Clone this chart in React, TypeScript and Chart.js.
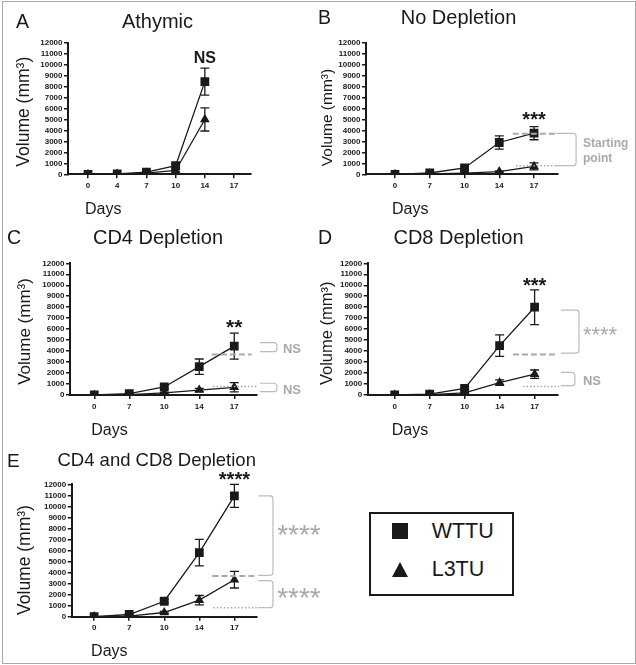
import React, { useEffect, useRef } from "react";
import { Chart, registerables } from "chart.js";

Chart.register(...registerables);

const W = 636;
const H = 665;
const FONT = '"Liberation Sans", Arial, Helvetica, sans-serif';
const INK = "#1a1a1a";
const GRAY = "#a9a9a9";
const GRAY_LINE = "#bcbcbc";

// ---------------- data ----------------
const DAYS_A = ["0", "4", "7", "10", "14", "17"];
const DAYS = ["0", "7", "10", "14", "17"];
const Y_MIN = 0;
const Y_MAX = 12000;
const Y_STEP = 1000;

const A_WTTU = [0, 30, 200, 780, 8450, null];
const A_WTTU_ERR = [0, 20, 80, 160, 1230, null];
const A_L3TU = [0, 15, 100, 350, 5000, null];
const A_L3TU_ERR = [0, 10, 40, 120, 1050, null];

const B_WTTU = [0, 120, 580, 2900, 3750];
const B_WTTU_ERR = [0, 60, 120, 600, 600];
const B_L3TU = [0, 30, 100, 240, 720];
const B_L3TU_ERR = [0, 10, 40, 80, 320];

const C_WTTU = [0, 120, 730, 2580, 4450];
const C_WTTU_ERR = [0, 60, 150, 700, 1180];
const C_L3TU = [0, 30, 200, 450, 700];
const C_L3TU_ERR = [0, 10, 60, 150, 420];

const D_WTTU = [0, 80, 600, 4500, 8000];
const D_WTTU_ERR = [0, 40, 120, 980, 1580];
const D_L3TU = [0, 30, 200, 1120, 1900];
const D_L3TU_ERR = [0, 10, 60, 250, 380];

const E_WTTU = [0, 200, 1400, 5800, 10950];
const E_WTTU_ERR = [0, 70, 160, 1200, 1050];
const E_L3TU = [0, 50, 380, 1500, 3350];
const E_L3TU_ERR = [0, 20, 90, 420, 750];

// starting-point reference levels (from No Depletion, day 17)
const START_WTTU = 3700;
const START_L3TU = 780;

// significance labels: [text, x index, y value]
const SIG_A = ["NS", 4, 10700];
const SIG_B = ["***", 4, 5225];
const SIG_C = ["**", 4, 6380];
const SIG_D = ["***", 4, 10200];
const SIG_E = ["****", 4, 12670];

// reference lines: [y value, x0 index, x1 index, kind]
const REF_B = [[START_WTTU, 3.39, 4.63, "dash"], [START_L3TU, 3.48, 4.63, "dot"]];
const REF_C = [[START_WTTU, 3.36, 4.5, "dash"], [START_L3TU, 3.39, 4.65, "dot"]];
const REF_D = [[START_WTTU, 3.38, 4.66, "dash"], [START_L3TU, 3.67, 4.7, "dot"]];
const REF_E = [[START_WTTU, 3.37, 4.64, "dash"], [START_L3TU + 20, 3.4, 4.64, "dot"]];

// brackets: [arm start index, vertical index, top value, bottom value]
const BR_B = [[4.63, 5.21, 3740, 785]];
const BR_C = [[4.73, 5.22, 4765, 3945], [4.73, 5.22, 1070, 300]];
const BR_D = [[4.75, 5.27, 7740, 3820], [4.75, 5.15, 2070, 850]];
const BR_E = [[4.68, 5.1, 10950, 3750], [4.68, 5.1, 3270, 820]];

// side notes: [text, x index, y value]
const NOTE_B = [["Starting", 5.41, 2900], ["point", 5.41, 1540]];
const NOTE_C = [["NS", 5.39, 4280], ["NS", 5.39, 547]];
const NOTE_D = [["****", 5.38, 5740], ["NS", 5.38, 1370]];
const NOTE_E = [["****", 5.22, 7710], ["****", 5.22, 2060]];

const SERIES_NAMES = ["WTTU", "L3TU"];

// ---------------- layout (page pixels) ----------------
type Panel = {
  key: string;
  labels: string[];
  series: (number | null)[][];
  errors: (number | null)[][];
  sig: any[];
  refs: any[][];
  brackets: number[][];
  notes: any[][];
  area: number[]; // left, right, top, bottom
  xRange: number[];
  letter: any[]; // text, left, capCenterY, size
  title: any[]; // text, centerX, capCenterY, size
  yTitle: number[]; // cx, cy, size
  sigSize: number;
  noteStyle: any[][]; // per note: [size, weight]
};

const PANELS: Panel[] = [
  {
    key: "A", labels: DAYS_A, series: [A_WTTU, A_L3TU], errors: [A_WTTU_ERR, A_L3TU_ERR],
    sig: SIG_A, refs: [], brackets: [], notes: [],
    area: [68, 251, 42.7, 174.3], xRange: [-0.685, 5.58],
    letter: ["A", 16, 21, 19.5], title: ["Athymic", 157.5, 21, 20], yTitle: [23, 111.7, 17.5],
    sigSize: 16, noteStyle: [],
  },
  {
    key: "B", labels: DAYS, series: [B_WTTU, B_L3TU], errors: [B_WTTU_ERR, B_L3TU_ERR],
    sig: SIG_B, refs: REF_B, brackets: BR_B, notes: NOTE_B,
    area: [366, 558, 42.7, 174.3], xRange: [-0.835, 4.69],
    letter: ["B", 318, 17, 19.5], title: ["No Depletion", 458.5, 17, 20], yTitle: [326.5, 117.5, 15.5],
    sigSize: 20, noteStyle: [[12, "bold"], [12, "bold"]],
  },
  {
    key: "C", labels: DAYS, series: [C_WTTU, C_L3TU], errors: [C_WTTU_ERR, C_L3TU_ERR],
    sig: SIG_C, refs: REF_C, brackets: BR_C, notes: NOTE_C,
    area: [70, 257, 263.3, 395], xRange: [-0.694, 4.65],
    letter: ["C", 7, 236.7, 19.5], title: ["CD4 Depletion", 158, 236.7, 20], yTitle: [24, 331.5, 17],
    sigSize: 21, noteStyle: [[13, "bold"], [13, "bold"]],
  },
  {
    key: "D", labels: DAYS, series: [D_WTTU, D_L3TU], errors: [D_WTTU_ERR, D_L3TU_ERR],
    sig: SIG_D, refs: REF_D, brackets: BR_D, notes: NOTE_D,
    area: [367.7, 557.7, 263.3, 395], xRange: [-0.771, 4.66],
    letter: ["D", 318, 236.7, 19.5], title: ["CD8 Depletion", 458.5, 236.7, 20], yTitle: [326.5, 333.3, 16.5],
    sigSize: 20, noteStyle: [[22, "normal"], [13, "bold"]],
  },
  {
    key: "E", labels: DAYS, series: [E_WTTU, E_L3TU], errors: [E_WTTU_ERR, E_L3TU_ERR],
    sig: SIG_E, refs: REF_E, brackets: BR_E, notes: NOTE_E,
    area: [71.7, 256.7, 484.3, 616.7], xRange: [-0.639, 4.636],
    letter: ["E", 7, 459.7, 19], title: ["CD4 and CD8 Depletion", 156.7, 459.7, 18.5], yTitle: [24, 560, 17.5],
    sigSize: 20, noteStyle: [[28, "normal"], [28, "normal"]],
  },
];

const Y_AXIS_W = 40;
const X_AXIS_H = 20;

function capText(ctx: CanvasRenderingContext2D, text: string, x: number, cy: number, size: number, weight: string, color: string, align: CanvasTextAlign) {
  ctx.save();
  ctx.font = `${weight} ${size}px ${FONT}`;
  ctx.fillStyle = color;
  ctx.textAlign = align;
  ctx.textBaseline = "alphabetic";
  const off = /^\*+$/.test(text) ? 0.45 : 0.358;
  ctx.fillText(text, x, cy + off * size);
  ctx.restore();
}

function makeDecor(p: Panel) {
  return {
    id: "decor" + p.key,
    beforeDatasetsDraw(chart: any) {
      const ctx = chart.ctx as CanvasRenderingContext2D;
      const ys = chart.scales.y;
      chart.data.datasets.forEach((ds: any, di: number) => {
        const meta = chart.getDatasetMeta(di);
        const errs = p.errors[di];
        meta.data.forEach((pt: any, i: number) => {
          const v = p.series[di][i];
          const e = errs[i];
          if (v == null || !e) return;
          const yT = ys.getPixelForValue(v + e);
          const yB = ys.getPixelForValue(Math.max(v - e, 0));
          ctx.save();
          ctx.strokeStyle = INK;
          ctx.lineWidth = 1.3;
          ctx.beginPath();
          ctx.moveTo(pt.x, yT);
          ctx.lineTo(pt.x, yB);
          ctx.moveTo(pt.x - 4.5, yT);
          ctx.lineTo(pt.x + 4.5, yT);
          ctx.moveTo(pt.x - 4.5, yB);
          ctx.lineTo(pt.x + 4.5, yB);
          ctx.stroke();
          ctx.restore();
        });
      });
    },
    afterDraw(chart: any) {
      const ctx = chart.ctx as CanvasRenderingContext2D;
      const xs = chart.scales.x;
      const ys = chart.scales.y;
      // panel letter + title
      capText(ctx, p.letter[0], p.letter[1], p.letter[2], p.letter[3], "normal", INK, "left");
      capText(ctx, p.title[0], p.title[1], p.title[2], p.title[3], "normal", INK, "center");
      // y title
      ctx.save();
      ctx.translate(p.yTitle[0], p.yTitle[1]);
      ctx.rotate(-Math.PI / 2);
      ctx.font = `normal ${p.yTitle[2]}px ${FONT}`;
      ctx.fillStyle = INK;
      ctx.textAlign = "center";
      ctx.textBaseline = "alphabetic";
      ctx.fillText("Volume (mm\u00B3)", 0, 0.33 * p.yTitle[2]);
      ctx.restore();
      // Days
      capText(ctx, "Days", xs.getPixelForValue(0) - 3, chart.chartArea.bottom + 34, 16, "normal", INK, "left");
      // significance
      capText(ctx, p.sig[0], xs.getPixelForValue(p.sig[1]), ys.getPixelForValue(p.sig[2]), p.sigSize, "bold", INK, "center");
      // reference lines
      p.refs.forEach((r) => {
        ctx.save();
        ctx.strokeStyle = GRAY;
        if (r[3] === "dash") {
          ctx.lineWidth = 2;
          ctx.setLineDash([6, 3]);
        } else {
          ctx.lineWidth = 1.5;
          ctx.setLineDash([1.5, 2]);
        }
        const y = ys.getPixelForValue(r[0]);
        ctx.beginPath();
        ctx.moveTo(xs.getPixelForValue(r[1]), y);
        ctx.lineTo(xs.getPixelForValue(r[2]), y);
        ctx.stroke();
        ctx.restore();
      });
      // brackets
      p.brackets.forEach((b) => {
        const xa = xs.getPixelForValue(b[0]);
        const xv = xs.getPixelForValue(b[1]);
        const yt = ys.getPixelForValue(b[2]);
        const yb = ys.getPixelForValue(b[3]);
        const r = Math.min(3, (yb - yt) / 2);
        ctx.save();
        ctx.strokeStyle = GRAY_LINE;
        ctx.lineWidth = 1.2;
        ctx.beginPath();
        ctx.moveTo(xa, yt);
        ctx.arcTo(xv, yt, xv, yb, r);
        ctx.arcTo(xv, yb, xa, yb, r);
        ctx.lineTo(xa, yb);
        ctx.stroke();
        ctx.restore();
      });
      // notes
      p.notes.forEach((n, i) => {
        const st = p.noteStyle[i];
        capText(ctx, n[0], xs.getPixelForValue(n[1]), ys.getPixelForValue(n[2]), st[0], st[1], GRAY, "left");
      });
    },
  };
}

function PanelChart({ p }: { p: Panel }) {
  const ref = useRef<HTMLCanvasElement | null>(null);
  useEffect(() => {
    const [left, right, top, bottom] = p.area;
    const tickFont = { family: FONT, size: 8, weight: "bold" as const };
    const chart = new Chart(ref.current as HTMLCanvasElement, {
      type: "line",
      data: {
        datasets: p.series.map((s, si) => ({
          label: SERIES_NAMES[si],
          data: s.map((v, i) => ({ x: i, y: v })),
          borderColor: INK,
          borderWidth: 1.3,
          backgroundColor: INK,
          pointStyle: si === 0 ? "rect" : "triangle",
          pointRadius: si === 0 ? 6.2 : 5.6,
          pointBackgroundColor: INK,
          pointBorderColor: INK,
          pointBorderWidth: 0,
          fill: false,
          tension: 0,
          spanGaps: false,
        })) as any,
      },
      options: {
        responsive: false,
        maintainAspectRatio: false,
        animation: false,
        devicePixelRatio: 1,
        events: [],
        layout: {
          padding: {
            left: left - Y_AXIS_W,
            right: W - right,
            top: top,
            bottom: H - bottom - X_AXIS_H,
          },
        },
        plugins: {
          legend: { display: false },
          tooltip: { enabled: false },
          title: { display: false },
        },
        scales: {
          x: {
            type: "linear",
            min: p.xRange[0],
            max: p.xRange[1],
            afterBuildTicks: (axis: any) => {
              axis.ticks = p.labels.map((_, i) => ({ value: i }));
            },
            afterFit: (axis: any) => {
              axis.height = X_AXIS_H;
            },
            ticks: {
              autoSkip: false,
              maxRotation: 0,
              padding: 2.5,
              color: INK,
              font: tickFont,
              callback: (v: any) => p.labels[v as number] ?? "",
            },
            grid: { drawOnChartArea: false, drawTicks: true, tickLength: 4, color: INK, lineWidth: 1.5 },
            border: { display: true, color: INK, width: 2 },
          },
          y: {
            type: "linear",
            min: Y_MIN,
            max: Y_MAX,
            afterFit: (axis: any) => {
              axis.width = Y_AXIS_W;
            },
            ticks: {
              stepSize: Y_STEP,
              autoSkip: false,
              padding: 1.5,
              color: INK,
              font: tickFont,
              callback: (v: any) => String(v),
            },
            grid: { drawOnChartArea: false, drawTicks: true, tickLength: 4, color: INK, lineWidth: 1.5 },
            border: { display: true, color: INK, width: 2 },
          },
        },
      } as any,
      plugins: [makeDecor(p)],
    });
    return () => chart.destroy();
  }, [p]);
  return (
    <canvas
      ref={ref}
      width={W}
      height={H}
      style={{ position: "absolute", left: 0, top: 0, width: W, height: H }}
    />
  );
}

function Legend() {
  const textStyle: React.CSSProperties = {
    position: "absolute",
    left: 60.7,
    fontFamily: FONT,
    fontSize: 21.5,
    lineHeight: "21.5px",
    color: INK,
    whiteSpace: "nowrap",
  };
  return (
    <div
      style={{
        position: "absolute",
        left: 369,
        top: 511.5,
        width: 145,
        height: 84.5,
        border: `2px solid ${INK}`,
        boxSizing: "border-box",
        background: "#fff",
      }}
    >
      <div style={{ position: "absolute", left: 20.7, top: 9.6, width: 16.5, height: 16, background: INK }} />
      <div style={{ ...textStyle, top: 17.5 - 10.5 }}>{SERIES_NAMES[0]}</div>
      <div
        style={{
          position: "absolute",
          left: 20.7,
          top: 48.7,
          width: 0,
          height: 0,
          borderLeft: "8.3px solid transparent",
          borderRight: "8.3px solid transparent",
          borderBottom: `15px solid ${INK}`,
        }}
      />
      <div style={{ ...textStyle, top: 56.2 - 10.5 }}>{SERIES_NAMES[1]}</div>
    </div>
  );
}

export default function App() {
  return (
    <div style={{ position: "absolute", left: 0, top: 0, width: W, height: H, background: "#fff", overflow: "hidden" }}>
      <div
        style={{
          position: "absolute",
          left: 2,
          top: 1,
          width: 634,
          height: 663,
          border: "1px solid #a8a8a8",
          boxSizing: "border-box",
        }}
      />
      {PANELS.map((p) => (
        <PanelChart key={p.key} p={p} />
      ))}
      <Legend />
    </div>
  );
}
